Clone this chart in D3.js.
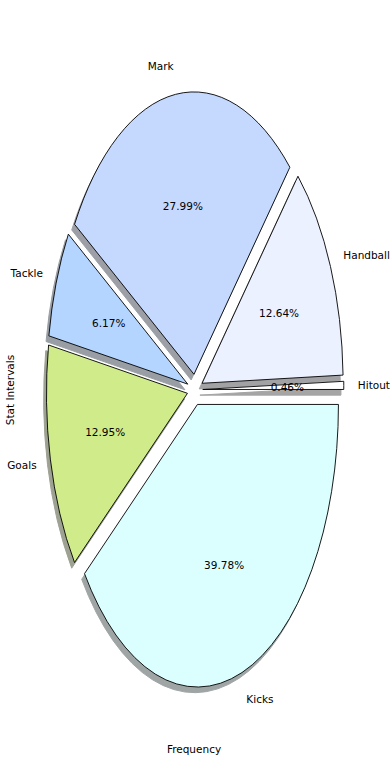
<!DOCTYPE html>
<html>
<head>
<meta charset="utf-8">
<script src="https://cdn.jsdelivr.net/npm/d3@7"></script>
<style>
  html, body { margin: 0; padding: 0; background: #fff; }
  svg text { font-family: "DejaVu Sans", sans-serif; font-size: 10.5px; fill: #000; }
</style>
</head>
<body>
<div id="chart"></div>
<script>
// slices, counter-clockwise from 3 o'clock
const labels = ["Hitout", "Handball", "Mark", "Tackle", "Goals", "Kicks"];
const shares = [0.46, 12.64, 27.99, 6.17, 12.95, 39.78];
const colors = ["#ffffff", "#ebf1ff", "#c5d9ff", "#b3d5ff", "#cfeb8a", "#dbffff"];
const explode = [0.055, 0.055, 0.055, 0.055, 0.055, 0.055];

function draw() {
  const width = 390;
  const height = 780;

  // pie axes span -1.25..1.25 in both directions (aspect not equal)
  const x = d3.scaleLinear().domain([-1.25, 1.25]).range([18.75, 371.25]);
  const y = d3.scaleLinear().domain([-1.25, 1.25]).range([742.8, 36.6]);
  const rx = x(1) - x(0);
  const ry = y(0) - y(1);

  const svg = d3.select("#chart")
    .append("svg")
    .attr("width", width)
    .attr("height", height);

  const total = d3.sum(shares);
  const pie = d3.pie()
    .sort(null)
    .startAngle(Math.PI / 2)
    .endAngle(Math.PI / 2 - 2 * Math.PI);
  const arcs = pie(shares).map((d, i) => {
    const mid = (d.startAngle + d.endAngle) / 2;
    // data-space unit vector of the mid angle
    const ux = Math.sin(mid);
    const uy = Math.cos(mid);
    return {
      ...d, i, ux, uy,
      ox: explode[i] * ux,
      oy: explode[i] * uy
    };
  });

  const arc = d3.arc().innerRadius(0).outerRadius(1);

  // shadows first (they sit under every wedge)
  svg.append("g")
    .selectAll("path")
    .data(arcs)
    .join("path")
    .attr("transform", d => `translate(${x(d.ox - 0.02)},${y(d.oy - 0.02)}) scale(${rx},${ry})`)
    .attr("d", arc)
    .attr("fill", d => {
      const c = d3.rgb(colors[d.i]);
      return d3.rgb(c.r * 0.3, c.g * 0.3, c.b * 0.3);
    })
    .attr("stroke", d => {
      const c = d3.rgb(colors[d.i]);
      return d3.rgb(c.r * 0.3, c.g * 0.3, c.b * 0.3);
    })
    .attr("stroke-width", 1)
    .attr("vector-effect", "non-scaling-stroke")
    .attr("opacity", 0.5);

  svg.append("g")
    .selectAll("path")
    .data(arcs)
    .join("path")
    .attr("transform", d => `translate(${x(d.ox)},${y(d.oy)}) scale(${rx},${ry})`)
    .attr("d", arc)
    .attr("fill", d => colors[d.i])
    .attr("stroke", "#000")
    .attr("stroke-width", 0.9)
    .attr("stroke-linejoin", "round")
    .attr("vector-effect", "non-scaling-stroke");

  // category labels at 1.1 radius
  svg.append("g")
    .selectAll("text")
    .data(arcs)
    .join("text")
    .attr("x", d => x(d.ox + 1.1 * d.ux))
    .attr("y", d => y(d.oy + 1.1 * d.uy))
    .attr("dy", "0.35em")
    .attr("text-anchor", d => d.ux > 0 ? "start" : "end")
    .text(d => labels[d.i]);

  // percentages at 0.6 radius
  svg.append("g")
    .selectAll("text")
    .data(arcs)
    .join("text")
    .attr("x", d => x(d.ox + 0.6 * d.ux))
    .attr("y", d => y(d.oy + 0.6 * d.uy))
    .attr("dy", "0.35em")
    .attr("text-anchor", "middle")
    .text(d => (d.value / total * 100).toFixed(2) + "%");

  svg.append("text")
    .attr("x", 194)
    .attr("y", 749)
    .attr("dy", "0.35em")
    .attr("text-anchor", "middle")
    .text("Frequency");

  svg.append("text")
    .attr("transform", "translate(10,390) rotate(-90)")
    .attr("dy", "0.35em")
    .attr("text-anchor", "middle")
    .text("Stat Intervals");
}
draw();
</script>
</body>
</html>
